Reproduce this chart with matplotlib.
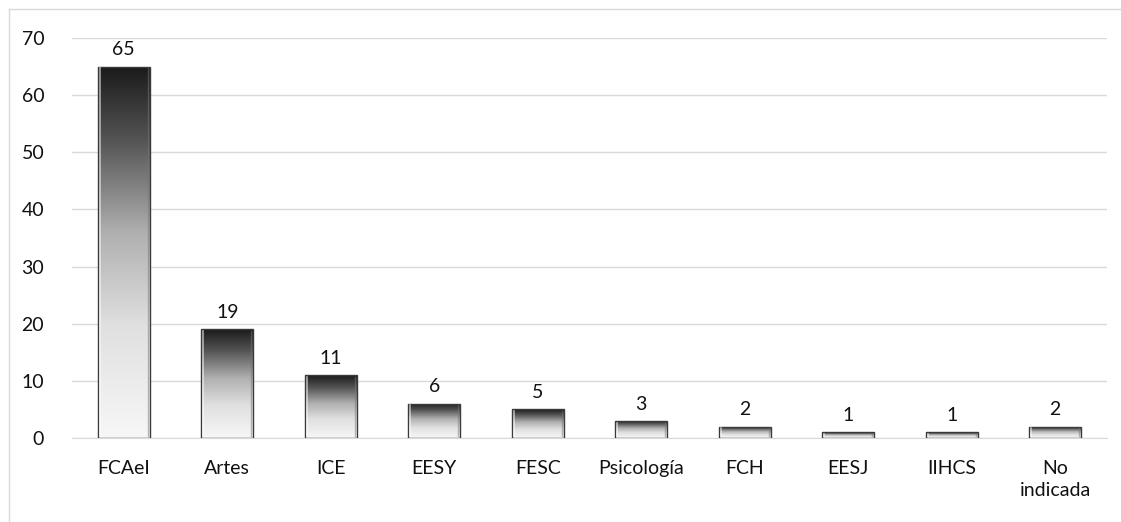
import numpy as np
import matplotlib
matplotlib.use("Agg")
import matplotlib.pyplot as plt
from matplotlib.colors import LinearSegmentedColormap
from matplotlib.lines import Line2D

# data
categories = ['FCAeI', 'Artes', 'ICE', 'EESY', 'FESC', 'Psicología', 'FCH', 'EESJ', 'IIHCS', 'No\nindicada']
values = [65, 19, 11, 6, 5, 3, 2, 1, 1, 2]
y_ticks = [0, 10, 20, 30, 40, 50, 60, 70]

plt.rcParams['font.family'] = ['Lato', 'DejaVu Sans']

W, H = 1121, 522
fig = plt.figure(figsize=(W / 100, H / 100), dpi=100)
ax = fig.add_axes([72 / W, (H - 438) / H, (1107 - 72) / W, 400 / H])

# dark top -> light bottom
cmap = LinearSegmentedColormap.from_list(
    'bevel', [(0.0, '#f7f7f7'), (0.3, '#e0e0e0'), (0.55, '#b0b0b0'), (0.8, '#555555'), (1.0, '#1a1a1a')])
grad = np.linspace(0, 1, 256).reshape(-1, 1)

x = np.arange(len(categories))
bars = ax.bar(x, values, width=0.5, color='none', edgecolor='#3a3a3a', linewidth=1.0, zorder=3)
for rect, v in zip(bars, values):
    x0, w = rect.get_x(), rect.get_width()
    im = ax.imshow(grad, cmap=cmap, origin='lower', aspect='auto',
                   extent=[x0, x0 + w, 0, v], zorder=2, interpolation='bilinear')
    im.set_clip_path(rect)
    # light inner edges for the bevel look
    ax.plot([x0 + 0.02, x0 + 0.02], [0.3, v - 0.3], color='white', lw=1.2, alpha=0.6, zorder=3)
    ax.plot([x0 + w - 0.02, x0 + w - 0.02], [0.3, v - 0.3], color='#777777', lw=1.0, alpha=0.5, zorder=3)
    ax.annotate(str(v), (rect.get_x() + w / 2, v), xytext=(0, 6), textcoords='offset points',
                ha='center', va='bottom', fontsize=14, color='#111111')

ax.set_xlim(-0.5, len(categories) - 0.5)
ax.set_ylim(0, 70)
ax.set_yticks(y_ticks)
ax.set_xticks(x)
ax.set_xticklabels(categories, linespacing=1.35)
ax.tick_params(axis='both', length=0, labelsize=14, colors='#111111')
ax.tick_params(axis='y', pad=20)
ax.tick_params(axis='x', pad=16)
ax.grid(axis='y', color='#d9d9d9', linewidth=1.0, zorder=0)
ax.set_axisbelow(True)
for s in ['top', 'right', 'left']:
    ax.spines[s].set_visible(False)
ax.spines['bottom'].set_color('#d9d9d9')

# chart frame (only left and top edges visible in the crop)
fig.add_artist(Line2D([9 / W, 9 / W], [0, 1 - 9 / H], color='#d9d9d9', lw=1, transform=fig.transFigure))
fig.add_artist(Line2D([9 / W, 1], [1 - 9 / H, 1 - 9 / H], color='#d9d9d9', lw=1, transform=fig.transFigure))

fig.savefig('out.png', dpi=100)
